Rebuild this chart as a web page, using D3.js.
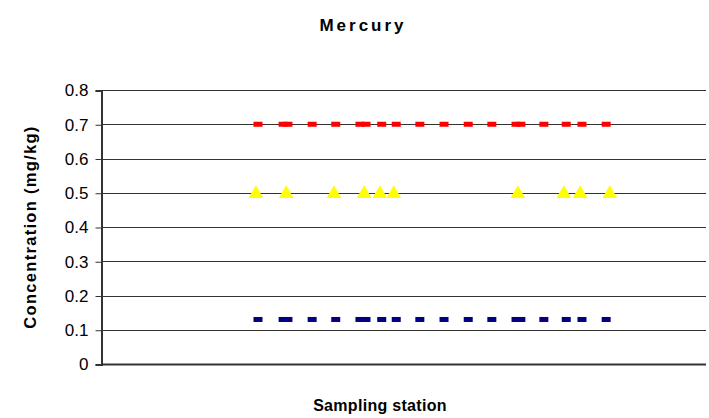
<!DOCTYPE html>
<html>
<head>
<meta charset="utf-8">
<script src="https://cdn.jsdelivr.net/npm/d3@7"></script>
<style>
  html, body { margin: 0; padding: 0; background: #fff; }
  svg { display: block; }
</style>
</head>
<body>
<svg id="chart" width="709" height="418"></svg>
<script>
// ---- Data ----
const title = "Mercury";
const xLabel = "Sampling station";
const yLabel = "Concentration (mg/kg)";
const yTicks = [0, 0.1, 0.2, 0.3, 0.4, 0.5, 0.6, 0.7, 0.8];

// station positions (relative units along transect)
const stationsDash = [25.95, 30.1, 30.9, 34.9, 38.8, 42.8, 43.8, 46.4, 48.8, 52.7,
                      56.7, 60.7, 64.6, 68.6, 69.4, 73.2, 76.9, 79.5, 83.5];
const stationsTri = [25.6, 30.6, 38.5, 43.5, 46.1, 48.4, 68.9, 76.5, 79.2, 84.1];

const redValues = stationsDash.map(() => 0.7);
const blueValues = stationsDash.map(() => 0.13);
const yellowValues = stationsTri.map(() => 0.5);

// ---- Layout ----
const svg = d3.select("#chart");
const mLeft = 101, mRight = 706, mTop = 90, mBottom = 364;

const x = d3.scaleLinear().domain([0, 100]).range([mLeft, mRight]);
const y = d3.scaleLinear().domain([0, 0.8]).range([mBottom, mTop]);

// gridlines
svg.append("g")
  .selectAll("line")
  .data(yTicks.filter(d => d > 0))
  .join("line")
  .attr("x1", mLeft).attr("x2", mRight)
  .attr("y1", d => Math.round(y(d)) + 0.5).attr("y2", d => Math.round(y(d)) + 0.5)
  .attr("stroke", "#333").attr("stroke-width", 1);

// y axis
const yAxis = d3.axisLeft(y).tickValues(yTicks).tickSize(6).tickPadding(7)
  .tickFormat(d => d === 0 ? "0" : d3.format(".1f")(d));
const gy = svg.append("g").attr("transform", `translate(${mLeft + 0.5},0.5)`).call(yAxis);
gy.select(".domain").attr("stroke", "#333").attr("stroke-width", 2);
gy.selectAll(".tick line").attr("stroke", "#333");
gy.selectAll(".tick text")
  .attr("font-family", "Liberation Sans, Arial, sans-serif")
  .attr("font-size", 17).attr("fill", "#000");

// x axis line (no ticks)
svg.append("line")
  .attr("x1", mLeft).attr("x2", mRight)
  .attr("y1", mBottom + 0.5).attr("y2", mBottom + 0.5)
  .attr("stroke", "#333").attr("stroke-width", 2);

// markers: red dashes
svg.append("g").selectAll("rect")
  .data(stationsDash.map((s, i) => [s, redValues[i]]))
  .join("rect")
  .attr("x", d => x(d[0]) - 4.5).attr("y", d => y(d[1]) - 2.5)
  .attr("width", 9).attr("height", 5)
  .attr("fill", "#FF0000");

// blue dashes
svg.append("g").selectAll("rect")
  .data(stationsDash.map((s, i) => [s, blueValues[i]]))
  .join("rect")
  .attr("x", d => x(d[0]) - 4.5).attr("y", d => y(d[1]) - 2.5)
  .attr("width", 9).attr("height", 5)
  .attr("fill", "#000080");

// yellow triangles
const tri = d3.symbol().type(d3.symbolTriangle).size(95);
svg.append("g").selectAll("path")
  .data(stationsTri.map((s, i) => [s, yellowValues[i]]))
  .join("path")
  .attr("d", tri)
  .attr("transform", d => `translate(${x(d[0])},${y(d[1]) + 1})`)
  .attr("fill", "#FFFF00");

// texts
svg.append("text")
  .attr("x", 363).attr("y", 31)
  .attr("text-anchor", "middle")
  .attr("font-family", "Liberation Sans, Arial, sans-serif")
  .attr("font-weight", "bold").attr("font-size", 17)
  .attr("letter-spacing", 3)
  .text(title);

svg.append("text")
  .attr("x", 380).attr("y", 411)
  .attr("text-anchor", "middle")
  .attr("font-family", "Liberation Sans, Arial, sans-serif")
  .attr("font-weight", "bold").attr("font-size", 16)
  .attr("letter-spacing", 0.3)
  .text(xLabel);

svg.append("text")
  .attr("transform", "translate(36,227) rotate(-90)")
  .attr("text-anchor", "middle")
  .attr("font-family", "Liberation Sans, Arial, sans-serif")
  .attr("font-weight", "bold").attr("font-size", 16.5)
  .attr("letter-spacing", 1.3)
  .text(yLabel);
</script>
</body>
</html>
